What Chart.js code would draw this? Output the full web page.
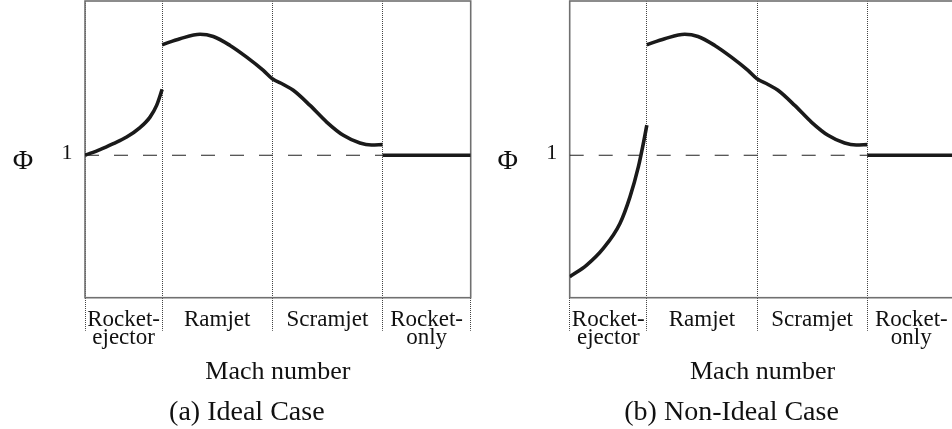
<!DOCTYPE html>
<html>
<head>
<meta charset="utf-8">
<script src="https://cdn.jsdelivr.net/npm/chart.js@4/dist/chart.umd.min.js"></script>
<style>
  html, body { margin: 0; padding: 0; background: #fff; overflow: hidden; }
  body { width: 952px; height: 429px; position: relative; }
  canvas { position: absolute; top: 0; }
  #ideal { left: 0; }
  #nonIdeal { left: 476px; }
</style>
</head>
<body>
<canvas id="ideal" width="476" height="429"></canvas>
<canvas id="nonIdeal" width="484" height="429"></canvas>
<script>
// flight regimes along the Mach axis
const regionBounds = [0, 0.7, 1.7, 2.7, 3.5];
const regionLabels = [['Rocket-', 'ejector'], ['Ramjet'], ['Scramjet'], ['Rocket-', 'only']];
const unityPhi = 1;

// rocket-ejector branch, ideal case
const ejectorIdealX   = [0, 0.136, 0.257, 0.378, 0.499, 0.590, 0.650, 0.700];
const ejectorIdealPhi = [1.0, 1.040, 1.082, 1.128, 1.194, 1.268, 1.350, 1.462];

// rocket-ejector branch, non-ideal case
const ejectorRealX   = [0, 0.154, 0.305, 0.456, 0.547, 0.623, 0.668, 0.700];
const ejectorRealPhi = [0.147, 0.229, 0.346, 0.521, 0.708, 0.918, 1.082, 1.212];

// ramjet + scramjet branch (same in both cases)
const airX   = [0.70, 0.862, 1.044, 1.164, 1.316, 1.467, 1.618, 1.70, 1.80, 1.89, 2.042, 2.193, 2.344, 2.495, 2.60, 2.70];
const airPhi = [1.776, 1.818, 1.850, 1.834, 1.771, 1.689, 1.596, 1.537, 1.497, 1.456, 1.350, 1.233, 1.140, 1.086, 1.072, 1.075];

// rocket-only branch
const rocketX   = [2.7, 3.5];
const rocketPhi = [1, 1];

// dashed reference at phi = 1
const refX = [0, 2.7];

const FONT = '"Liberation Serif", "Times New Roman", serif';
Chart.defaults.font.family = FONT;

const pts = (xs, ys) => xs.map((v, i) => ({ x: v, y: ys[i] }));

const curve = (data) => ({
  data,
  borderColor: '#1a1a1a',
  borderWidth: 3.6,
  pointRadius: 0,
  cubicInterpolationMode: 'monotone',
  fill: false
});

const annotate = {
  id: 'annotate',
  beforeDatasetsDraw(chart) {
    const { ctx, chartArea: a } = chart;
    ctx.save();
    ctx.strokeStyle = '#707070';
    ctx.lineWidth = 1.6;
    ctx.strokeRect(a.left, a.top, a.right - a.left, a.bottom - a.top);
    ctx.restore();
  },
  afterDraw(chart, args, opts) {
    const { ctx, chartArea: a, scales: { x, y } } = chart;
    ctx.save();
    ctx.fillStyle = '#111';
    ctx.textAlign = 'center';
    ctx.textBaseline = 'alphabetic';
    const y1 = y.getPixelForValue(unityPhi);
    ctx.font = '22px ' + FONT;
    ctx.fillText('1', a.left - 18, y1 + 4);
    ctx.font = '28px ' + FONT;
    ctx.fillText('Φ', a.left - 62, y1 + 14);

    ctx.font = '23px ' + FONT;
    regionLabels.forEach((lines, i) => {
      const cx = x.getPixelForValue((regionBounds[i] + regionBounds[i + 1]) / 2);
      lines.forEach((t, j) => ctx.fillText(t, cx, a.bottom + 28 + j * 18));
    });

    ctx.font = '28px ' + FONT;
    ctx.fillText(opts.caption, (a.left - 62 + a.right) / 2, a.bottom + 122);
    ctx.restore();
  }
};

function makeChart(id, ejector, caption, padLeft, padRight) {
  return new Chart(document.getElementById(id), {
    type: 'line',
    data: {
      datasets: [
        {
          data: pts(refX, refX.map(() => unityPhi)),
          borderColor: '#222',
          borderWidth: 1.2,
          borderDash: [14, 15],
          pointRadius: 0
        },
        curve(ejector),
        curve(pts(airX, airPhi)),
        curve(pts(rocketX, rocketPhi))
      ]
    },
    options: {
      responsive: false,
      animation: false,
      devicePixelRatio: 1,
      layout: { padding: { top: 1, left: padLeft, right: padRight, bottom: 41.4 } },
      plugins: {
        legend: { display: false },
        tooltip: { enabled: false },
        annotate: { caption }
      },
      scales: {
        x: {
          type: 'linear',
          min: regionBounds[0],
          max: regionBounds[regionBounds.length - 1],
          afterBuildTicks: (axis) => { axis.ticks = regionBounds.map(v => ({ value: v })); },
          ticks: { display: false },
          grid: {
            color: '#444',
            lineWidth: 1,
            tickLength: 33,
            tickColor: '#444',
            tickBorderDash: [1, 1]
          },
          border: { display: false, dash: [1, 1] },
          title: {
            display: true,
            text: 'Mach number',
            color: '#111',
            font: { size: 26, family: FONT, lineHeight: 1.2 },
            padding: { top: 25.7, bottom: 0 }
          }
        },
        y: {
          type: 'linear',
          min: 0,
          max: 2.083,
          display: false
        }
      }
    },
    plugins: [annotate]
  });
}

makeChart('ideal', pts(ejectorIdealX, ejectorIdealPhi), '(a) Ideal Case', 85, 5.3);
makeChart('nonIdeal', pts(ejectorRealX, ejectorRealPhi), '(b) Non-Ideal Case', 93.7, 4.6);
</script>
</body>
</html>
